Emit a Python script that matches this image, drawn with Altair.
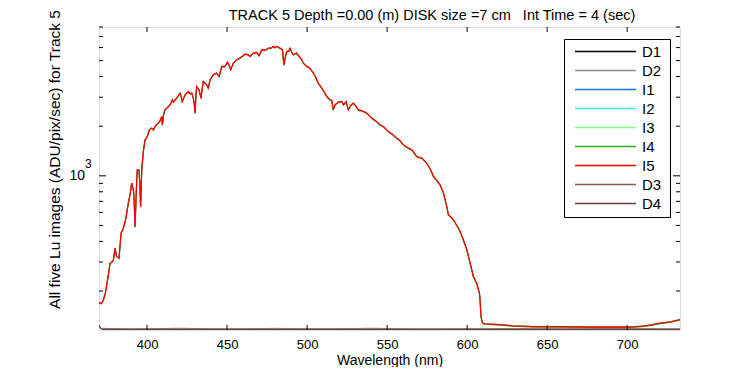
import altair as alt
import pandas as pd

FONT = "Liberation Sans"

series_names = ["D1", "D2", "I1", "I2", "I3", "I4", "I5", "D3", "D4"]
series_colors = ["#000000", "#8c8c8c", "#0a78e6", "#3ce6f0", "#80ff80",
                 "#1eb41e", "#ff0000", "#8c5a5a", "#6e3c3c"]

# Lu spectrum (I images)
wl_i = [370.0, 371.5, 372.7, 374.0, 374.8, 375.8, 376.9, 378.0, 378.9, 380.0,
        381.0, 382.5, 383.8, 385.2, 386.7, 388.3, 389.5, 390.4, 391.5, 392.0,
        392.5, 393.3, 393.9, 395.0, 395.5, 396.0, 396.7, 397.7, 398.75, 400.2,
        401.4, 402.9, 404.0, 405.0, 407.0, 408.0, 409.2, 409.6, 410.3, 411.25,
        413.3, 414.5, 415.8, 416.5, 417.5, 419.0, 420.6, 421.3, 422.0, 423.75,
        425.8, 427.0, 428.0, 428.9, 429.6, 430.0, 430.5, 431.0, 432.5, 433.75,
        434.5, 435.2, 437.3, 438.3, 439.4, 441.4, 443.5, 445.0, 446.7, 448.75,
        450.2, 451.3, 452.3, 453.9, 456.0, 458.1, 460.0, 461.25, 463.3, 464.4,
        466.4, 468.6, 470.0, 471.7, 473.75, 475.8, 477.5, 478.9, 480.0, 481.0,
        483.1, 484.6, 485.3, 485.6, 486.3, 487.3, 488.5, 489.4, 490.5, 491.4,
        493.5, 495.0, 496.5, 497.7, 499.8, 501.0, 502.5, 505.0, 507.0, 509.2,
        511.0, 512.3, 514.4, 515.4, 516.4, 517.5, 519.6, 521.7, 522.7, 524.4,
        525.8, 527.5, 529.0, 530.5, 532.0, 534.5, 537.3, 540.4, 543.0, 545.6,
        548.0, 550.8, 553.5, 556.0, 558.0, 560.2, 563.0, 565.4, 568.5, 571.7,
        574.8, 577.0, 579.0, 581.0, 583.1, 585.0, 586.25, 587.5, 588.3, 590.0,
        591.5, 593.0, 594.6, 596.2, 597.7, 599.8, 601.9, 603.9, 606.0, 607.7,
        608.2, 608.5, 609.0, 609.7, 611.0, 614.4, 620.6, 628.9, 641.4, 660.0,
        680.0, 700.0, 705.0, 710.0, 715.0, 720.6, 726.9, 733.0]
lu_i = [170, 168, 176, 195, 218, 250, 295, 300, 305, 364,
        324, 316, 449, 481, 546, 682, 780, 903, 822, 700,
        492, 800, 1087, 1087, 900, 651, 1087, 1405, 1655, 1733,
        1901, 1950, 1900, 1993, 2090, 2150, 2290, 2040, 2350, 2515,
        2635, 2700, 2890, 2800, 2890, 3000, 3177, 3050, 2825, 3100,
        3250, 3150, 3177, 2965, 2700, 2404, 3000, 3486, 3325, 2965,
        3400, 3740, 3570, 3407, 3828, 4105, 4205, 4010, 4610, 4610,
        4900, 4700, 4405, 4830, 5060, 5185, 5350, 5485, 5430, 5300,
        5560, 5610, 5355, 5825, 5780, 5960, 5950, 6100, 6000, 6100,
        5960, 5825, 5000, 4720, 5200, 5690, 5700, 5960, 5600, 5430,
        5560, 5300, 5100, 4830, 4610, 4550, 4405, 4050, 3655, 3407,
        3200, 3027, 2890, 2880, 2515, 2700, 2800, 2825, 2700, 2825,
        2515, 2700, 2762, 2650, 2515, 2480, 2404, 2240, 2150, 2040,
        1980, 1858, 1780, 1693, 1640, 1543, 1480, 1438, 1310, 1280,
        1194, 1100, 990, 940, 881, 800, 714, 640, 580, 560,
        541, 510, 481, 445, 408, 356, 295, 245, 223, 194,
        170, 147, 135, 128, 126.5, 126, 125, 123, 121.7, 121.5,
        121, 121, 121.5, 122.5, 124.5, 127.6, 130, 134]

# Dark images (they sit on the bottom of the frame)
wl_d = [370, 371, 372, 390, 420, 450, 480, 510, 540, 570, 600, 630, 660, 690, 720, 733]
d1 = [123, 119, 117.4, 117.3, 117.4, 117.3, 117.3, 117.4, 117.3, 117.3, 117.4, 117.3, 117.3, 117.4, 117.3, 117.3]
d2 = [122, 118.5, 118.8, 117.6, 118.9, 117.6, 118.7, 117.6, 118.9, 117.5, 117.6, 118.6, 117.5, 118.8, 117.6, 117.5]
d3 = [124, 119, 117.2, 117.1, 117.2, 117.1, 117.2, 117.1, 117.2, 117.1, 117.2, 117.1, 117.2, 117.1, 117.2, 117.1]
d4 = [124, 119, 117.0, 117.0, 117.0, 117.0, 117.0, 117.0, 117.0, 117.0, 117.0, 117.0, 117.0, 117.0, 117.0, 117.0]

x_ticks = [400, 450, 500, 550, 600, 650, 700]
y_minor = [200, 300, 400, 500, 600, 700, 800, 900, 2000, 3000, 4000, 5000, 6000, 7000, 8000]
y_major = [1000]

NB = "\u00a0"
title_text = f"TRACK 5 Depth =0.00 (m) DISK size =7 cm{NB}{NB}{NB}Int Time = 4 (sec)"
y_title = "All five Lu images (ADU/pix/sec) for Track 5"
x_title = "Wavelength (nm)"

W, H = 581, 303

series_values = {
    "D1": (wl_d, d1), "D2": (wl_d, d2),
    "I1": (wl_i, lu_i), "I2": (wl_i, lu_i), "I3": (wl_i, lu_i),
    "I4": (wl_i, lu_i), "I5": (wl_i, lu_i),
    "D3": (wl_d, d3), "D4": (wl_d, d4),
}

xs = alt.Scale(domain=[370, 733], nice=False, zero=False)
ys = alt.Scale(type="log", domain=[116, 8000], nice=False)

x_axis = alt.Axis(values=x_ticks, ticks=False, domain=False, grid=False,
                  labelFontSize=13, labelFont=FONT, labelColor="black", labelPadding=8,
                  title=x_title, titleFontSize=14, titleFont=FONT, titleFontWeight="normal",
                  titleColor="black", titlePadding=2)
y_axis = alt.Axis(labels=False, ticks=False, domain=False, grid=False,
                  title=y_title, titleFontSize=15.5, titleFont=FONT, titleFontWeight="normal",
                  titleColor="black", titleX=-37, titleY=132)


def X(field):
    return alt.X(f"{field}:Q", scale=xs, axis=x_axis)


def Y(field):
    return alt.Y(f"{field}:Q", scale=ys, axis=y_axis)


layers = []
offsets = {"I4": 0.6}
widths = {"I5": 1.3}
for name, color in zip(series_names, series_colors):
    wl, vals = series_values[name]
    df = pd.DataFrame({"wl": wl, "lu": vals})
    layers.append(
        alt.Chart(df).mark_line(color=color, strokeWidth=widths.get(name, 1), clip=True,
                                yOffset=offsets.get(name, 0))
        .encode(x=X("wl"), y=Y("lu"))
    )

xt = pd.DataFrame({"v": x_ticks})
layers.append(alt.Chart(xt).mark_rule(color="black", strokeWidth=1)
              .encode(x=X("v"), y=alt.value(0), y2=alt.value(5)))
layers.append(alt.Chart(xt).mark_rule(color="black", strokeWidth=1)
              .encode(x=X("v"), y=alt.value(H - 5), y2=alt.value(H)))

ymin = pd.DataFrame({"v": y_minor})
ymaj = pd.DataFrame({"v": y_major})
for df_t, ln in ((ymin, 4), (ymaj, 7)):
    layers.append(alt.Chart(df_t).mark_rule(color="black", strokeWidth=1)
                  .encode(y=Y("v"), x=alt.value(0), x2=alt.value(ln)))
    layers.append(alt.Chart(df_t).mark_rule(color="black", strokeWidth=1)
                  .encode(y=Y("v"), x=alt.value(W - ln), x2=alt.value(W)))

layers.append(alt.Chart(ymaj).mark_text(align="right", baseline="middle", fontSize=14,
                                        font=FONT, color="black", text="10")
              .encode(y=Y("v"), x=alt.value(-14)))
layers.append(alt.Chart(ymaj).mark_text(align="left", baseline="middle", fontSize=12,
                                        font=FONT, color="black", text="3", dy=-12)
              .encode(y=Y("v"), x=alt.value(-14)))

main = alt.layer(*layers)

# chart title as a text layer (kept clear of the rotated y-axis title)
title_layer = alt.Chart(pd.DataFrame({"t": [title_text]})).mark_text(
    align="center", baseline="middle", fontSize=14.5, font=FONT, color="black"
).encode(text="t:N", x=alt.value(333), y=alt.value(-11))

# legend
leg_df = pd.DataFrame({"name": series_names, "col": series_colors})
leg_y = alt.Y("name:N", sort=series_names,
              scale=alt.Scale(type="point", domain=series_names, range=[24.5, 176.5], padding=0),
              axis=None)
leg_color = alt.Color("col:N", scale=None, legend=None)
box = alt.Chart(pd.DataFrame({"a": [0]})).mark_rect(fill="white", stroke="black", strokeWidth=1).encode(
    x=alt.value(465.5), x2=alt.value(571.5), y=alt.value(12.5), y2=alt.value(190.5))
leg_lines = alt.Chart(leg_df).mark_rule(strokeWidth=1.5).encode(
    y=leg_y, x=alt.value(476), x2=alt.value(537), color=leg_color)
leg_text = alt.Chart(leg_df).mark_text(align="left", baseline="middle", fontSize=15,
                                       font=FONT, color="black").encode(
    y=leg_y, x=alt.value(543), text="name:N")
legend = alt.layer(box, leg_lines, leg_text)

chart = (
    alt.layer(main, legend, title_layer)
    .resolve_scale(y="independent")
    .properties(
        width=W, height=H,
        autosize=alt.AutoSizeParams(type="none"),
        padding={"left": 91, "top": 19, "right": 62, "bottom": 37},
    )
    .configure_view(stroke="black", strokeWidth=1)
    .configure(background="white")
)

chart.save("out.html", embed_options={"renderer": "svg", "actions": False})
